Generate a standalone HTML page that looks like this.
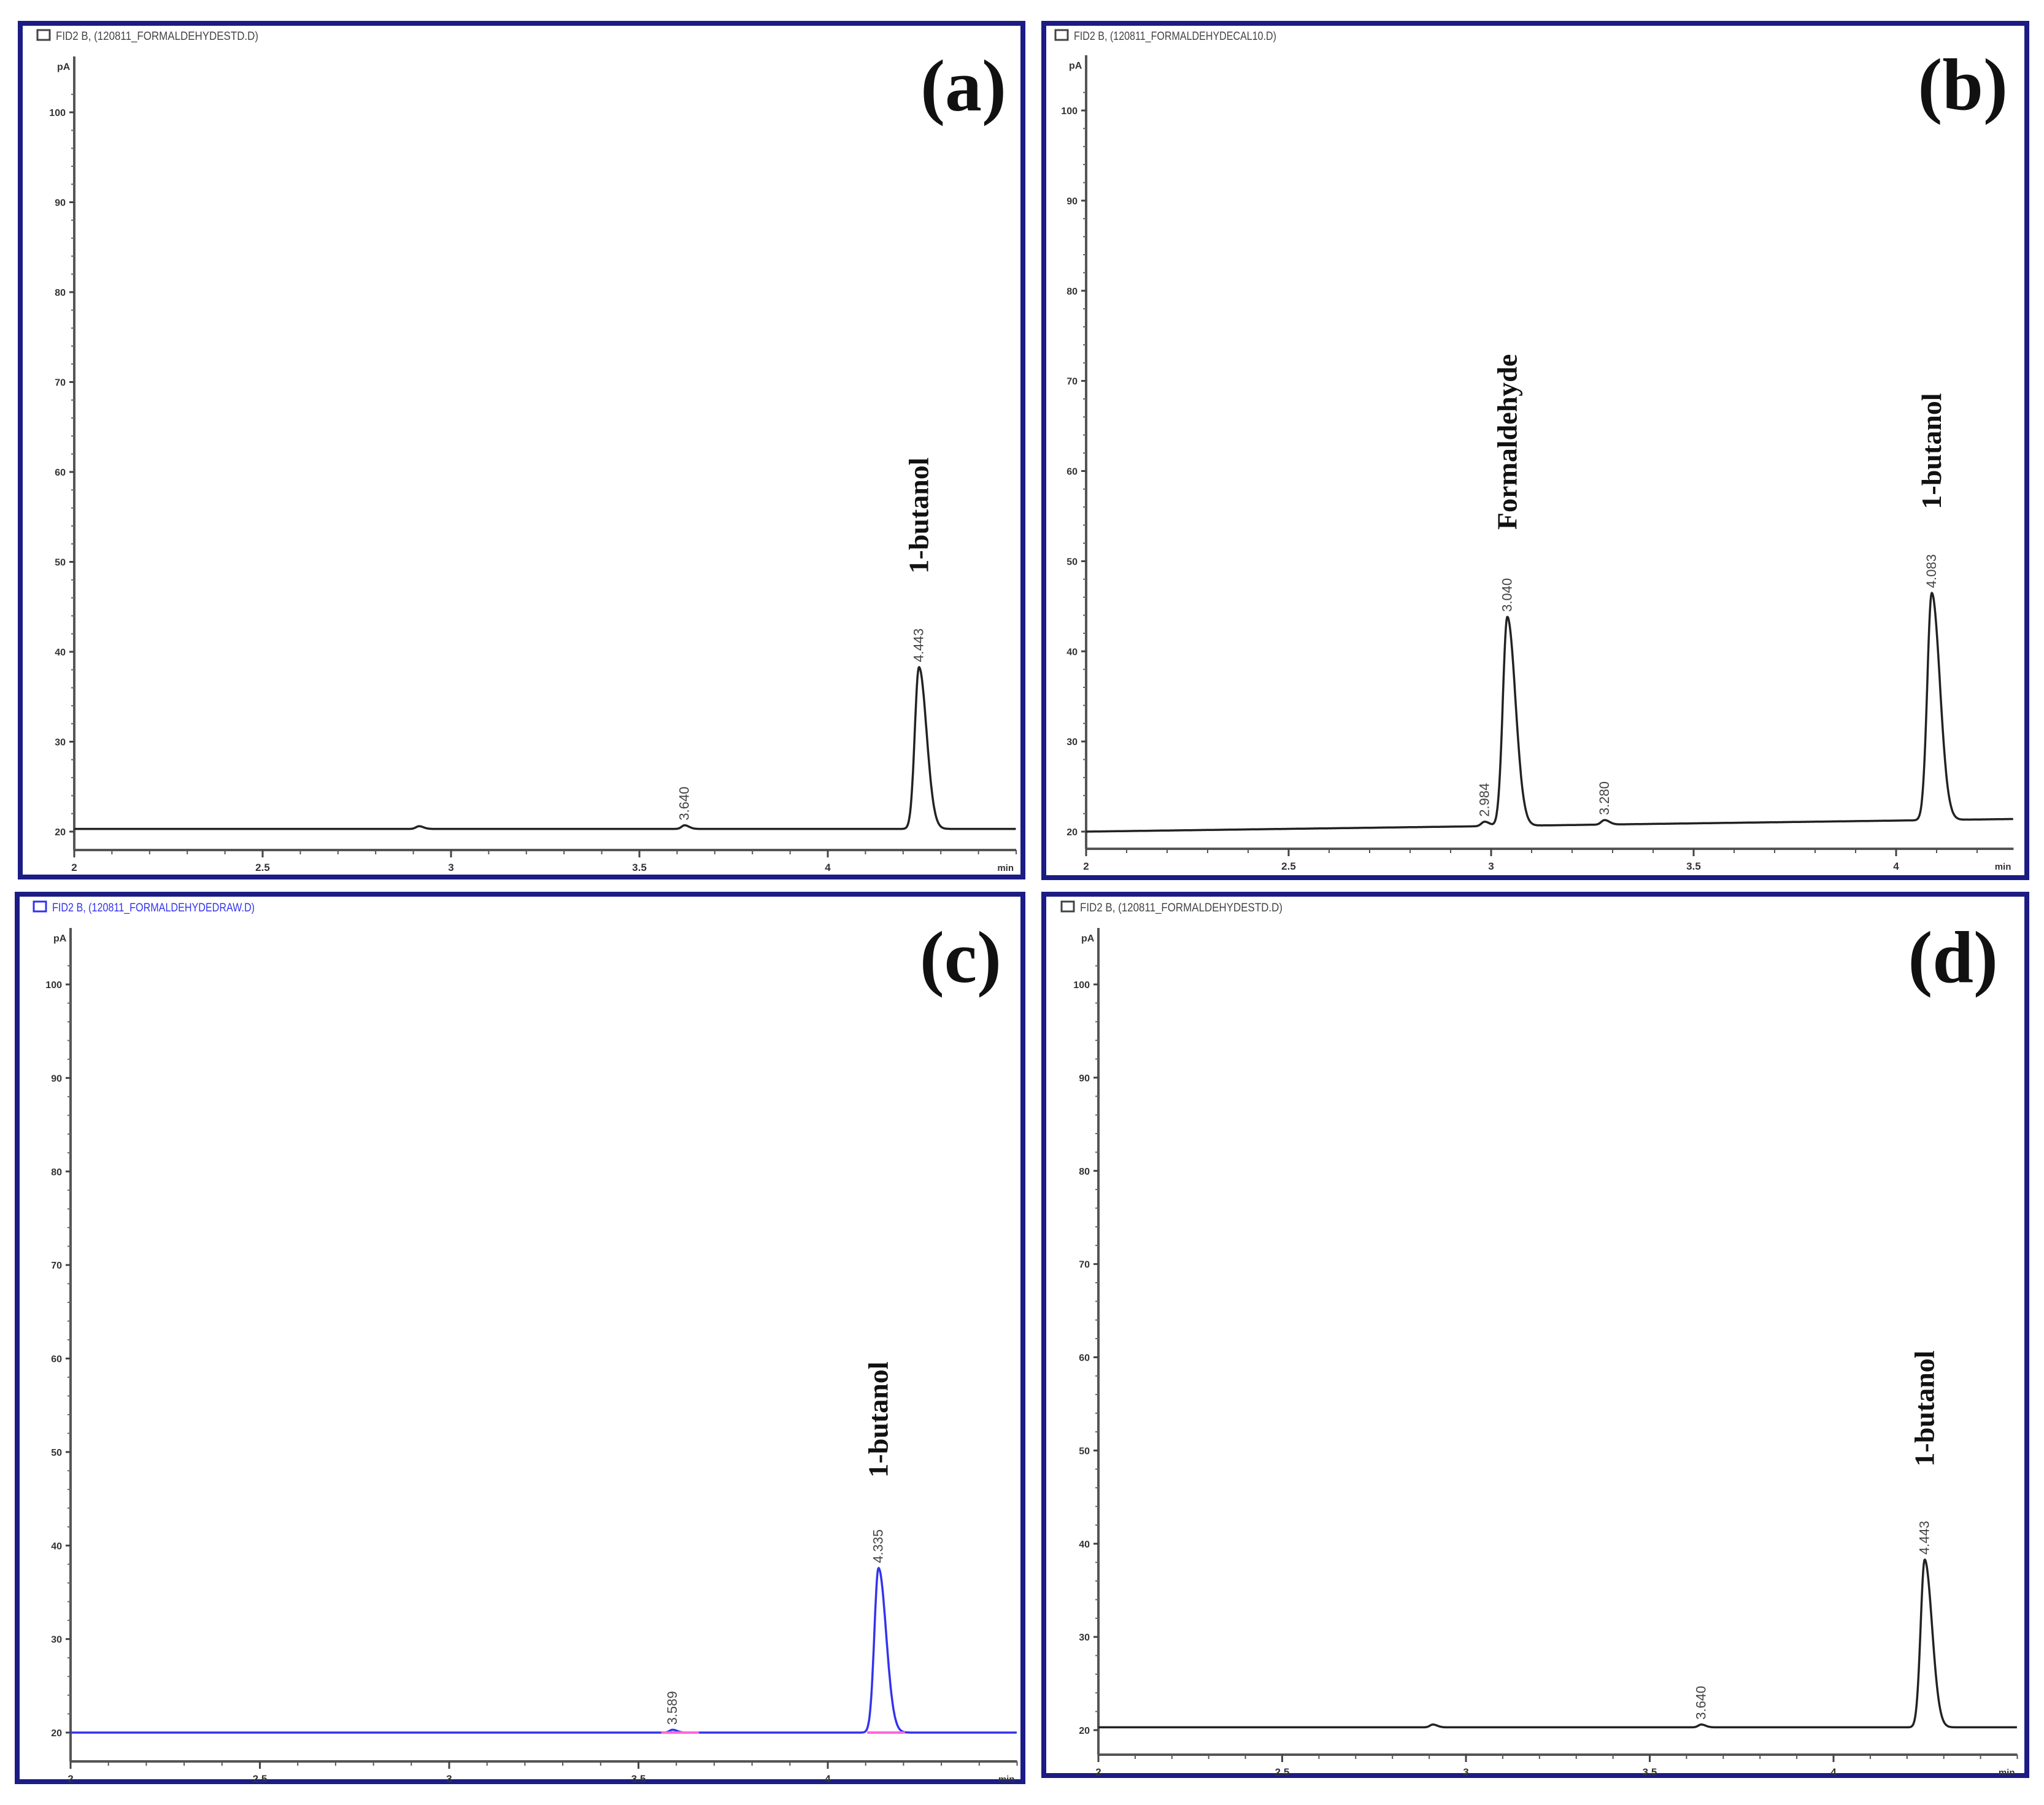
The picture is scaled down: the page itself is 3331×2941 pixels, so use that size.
<!DOCTYPE html>
<html><head><meta charset="utf-8">
<style>
html,body{margin:0;padding:0;background:#fff;}
svg{display:block;}
</style></head>
<body>
<svg id="fig" width="3331" height="2941" viewBox="0 0 3331 2941" xmlns="http://www.w3.org/2000/svg">
<rect width="3331" height="2941" fill="#fff"/>
</svg>
<script>
// ---- data (retention time in min, response in pA) ----
const xTicksA = [2, 2.5, 3, 3.5, 4];
const xTickLabels = ["2", "2.5", "3", "3.5", "4"];
const yTicks = [20, 30, 40, 50, 60, 70, 80, 90, 100];
const titlesPanels = ["FID2 B, (120811_FORMALDEHYDESTD.D)", "FID2 B, (120811_FORMALDEHYDECAL10.D)", "FID2 B, (120811_FORMALDEHYDEDRAW.D)", "FID2 B, (120811_FORMALDEHYDESTD.D)"];
const panelLetters = ["(a)", "(b)", "(c)", "(d)"];
// peaks per panel: apex positions on the drawn time axis, heights above baseline, printed rt labels
const peakRtA = [2.915, 3.62, 4.242];
const peakHA = [0.3, 0.4, 18.0];
const peakLblA = ["", "3.640", "4.443"];
const peakRtB = [2.984, 3.04, 3.28, 4.088];
const peakHB = [0.5, 23.2, 0.5, 25.2];
const peakLblB = ["2.984", "3.040", "3.280", "4.083"];
const peakRtC = [3.59, 4.134];
const peakHC = [0.3, 17.6];
const peakLblC = ["3.589", "4.335"];
const peakRtD = [2.91, 3.64, 4.248];
const peakHD = [0.3, 0.3, 18.0];
const peakLblD = ["", "3.640", "4.443"];
// baseline start/end values
const baseA = [20.3, 20.3];
const baseB = [20.0, 21.4];
const baseC = [20.0, 20.0];
const baseD = [20.3, 20.3];
// compound annotations: [rt, text]
const compA = [[4.242, "1-butanol"]];
const compB = [[3.04, "Formaldehyde"], [4.088, "1-butanol"]];
const compC = [[4.134, "1-butanol"]];
const compD = [[4.248, "1-butanol"]];

// ---- layout ----
const panels = [
 {frame:[33,38,1634,1391], ax0:121, pxPerMin:614, y20:1355, y100:183, xAxisY:1385, xMax:4.5, axTop:92, titleY:58,
  rt:peakRtA, h:peakHA, lbl:peakLblA, base:baseA, comp:compA, color:"#222", letterX:1640, letterY:180, compY:840},
 {frame:[1701,38,1602,1392], ax0:1770, pxPerMin:660, y20:1355, y100:180, xAxisY:1383, xMax:4.29, axTop:90, titleY:58,
  rt:peakRtB, h:peakHB, lbl:peakLblB, base:baseB, comp:compB, color:"#222", letterX:3272, letterY:178, compY:[720,735]},
 {frame:[28,1457,1639,1446], ax0:115, pxPerMin:617, y20:2823, y100:1604, xAxisY:2870, xMax:4.5, axTop:1512, titleY:1478,
  rt:peakRtC, h:peakHC, lbl:peakLblC, base:baseC, comp:compC, color:"#3333ee", letterX:1632, letterY:1600, compY:2313},
 {frame:[1701,1457,1602,1436], ax0:1790, pxPerMin:599, y20:2819, y100:1604, xAxisY:2859, xMax:4.5, axTop:1512, titleY:1478,
  rt:peakRtD, h:peakHD, lbl:peakLblD, base:baseD, comp:compD, color:"#222", letterX:3256, letterY:1600, compY:2295}
];
const NS = "http://www.w3.org/2000/svg";
const svg = document.getElementById('fig');
function mk(tag, attrs, parent){ const e=document.createElementNS(NS,tag); for(const k in attrs) e.setAttribute(k,attrs[k]); (parent||svg).appendChild(e); return e; }

panels.forEach((p, i) => {
  const g = mk('g', {});
  
  
  const X = t => p.ax0 + (t - 2) * p.pxPerMin;
  const Y = v => p.y20 - (v - 20) * (p.y20 - p.y100) / 80;
  const xEnd = X(p.xMax);
  const fr = mk('rect', {x:p.frame[0], y:p.frame[1], width:p.frame[2], height:p.frame[3], fill:'none', stroke:'#1c1c84', 'stroke-width':8}, g);
  
  
  const tc = i === 2 ? '#3333ee' : '#444';
  mk('rect', {x:p.ax0 - 60 + (i===1?10:0), y:p.titleY - 9, width:20, height:16, fill:'none', stroke:tc, 'stroke-width':3}, g);
  const tt = mk('text', {x:p.ax0 - 30 + (i===1?10:0), y:p.titleY + 7, 'font-family':'Liberation Sans, sans-serif', 'font-size':19, fill:tc, textLength:330, lengthAdjust:'spacingAndGlyphs'}, g);
  tt.textContent = titlesPanels[i];
  
  
  const ya = mk('line', {x1:p.ax0, y1:p.axTop, x2:p.ax0, y2:p.xAxisY, stroke:'#555', 'stroke-width':4}, g);
  
  
  const un = mk('text', {x:p.ax0 - 28, y:p.axTop + 22, 'font-family':'Liberation Sans, sans-serif', 'font-size':16, 'font-weight':'bold', fill:'#333'}, g);
  un.textContent = 'pA';
  
  
  yTicks.forEach(v => {
    mk('line', {x1:p.ax0 - 8, y1:Y(v), x2:p.ax0, y2:Y(v), stroke:'#444', 'stroke-width':3}, g);
    const t = mk('text', {x:p.ax0 - 14, y:Y(v) + 6, 'text-anchor':'end', 'font-family':'Liberation Sans, sans-serif', 'font-size':16, 'font-weight':'bold', fill:'#333'}, g);
    t.textContent = String(v);
    
    
    for (let k = 1; k < 5; k++) { const vv = v + k * 2; if (vv < 104) mk('line', {x1:p.ax0 - 5, y1:Y(vv), x2:p.ax0, y2:Y(vv), stroke:'#666', 'stroke-width':2}, g); }
  });
  const xa = mk('line', {x1:p.ax0, y1:p.xAxisY, x2:xEnd, y2:p.xAxisY, stroke:'#555', 'stroke-width':4}, g);
  
  
  for (let t = 2; t <= p.xMax + 1e-6; t += 0.1) mk('line', {x1:X(t), y1:p.xAxisY, x2:X(t), y2:p.xAxisY + 7, stroke:'#555', 'stroke-width':2}, g);
  xTicksA.forEach((t, k) => {
    mk('line', {x1:X(t), y1:p.xAxisY, x2:X(t), y2:p.xAxisY + 12, stroke:'#444', 'stroke-width':3}, g);
    const tl = mk('text', {x:X(t), y:p.xAxisY + 34, 'text-anchor':'middle', 'font-family':'Liberation Sans, sans-serif', 'font-size':17, 'font-weight':'bold', fill:'#333'}, g);
    tl.textContent = xTickLabels[k];
    
    
  });
  const mn = mk('text', {x:xEnd - 4, y:p.xAxisY + 34, 'text-anchor':'end', 'font-family':'Liberation Sans, sans-serif', 'font-size':15, 'font-weight':'bold', fill:'#333'}, g);
  mn.textContent = 'min';
  
  
  const baseAt = t => p.base[0] + (p.base[1] - p.base[0]) * (t - 2) / (p.xMax - 2);
  let d = '';
  for (let t = 2; t <= p.xMax + 1e-9; t += 0.0015) {
    let v = baseAt(t);
    p.rt.forEach((r, k) => {
      const big = p.h[k] > 3;
      const sl = big ? 0.011 : 0.008, sr = big ? 0.02 : 0.012;
      const s = t < r ? sl : sr;
      v += p.h[k] * Math.exp(-0.5 * Math.pow((t - r) / s, 2));
    });
    d += (d ? 'L' : 'M') + X(t).toFixed(1) + ' ' + Y(v).toFixed(1);
  }
  const tr = mk('path', {d:d, fill:'none', stroke:p.color, 'stroke-width':3.5, 'stroke-linejoin':'round'}, g);
  
  
  p.rt.forEach((r, k) => {
    if (i === 2) mk('line', {x1:X(r - 0.03), y1:Y(baseAt(r)), x2:X(r + 0.07), y2:Y(baseAt(r)), stroke:'#ff66dd', 'stroke-width':4}, g);
    if (!p.lbl[k]) return;
    const yTop = Y(baseAt(r) + p.h[k]) - 8;
    const lt = mk('text', {x:0, y:0, transform:`translate(${X(r) + 7},${yTop}) rotate(-90)`, 'font-family':'Liberation Sans, sans-serif', 'font-size':22, fill:'#444'}, g);
    lt.textContent = p.lbl[k];
    
    
  });
  p.comp.forEach((c, k) => {
    const cy = Array.isArray(p.compY) ? p.compY[k] : p.compY;
    const ct = mk('text', {x:0, y:0, 'text-anchor':'middle', transform:`translate(${X(c[0]) + 15},${cy}) rotate(-90)`, 'font-family':'Liberation Serif, serif', 'font-size':46, 'font-weight':'bold', fill:'#111'}, g);
    ct.textContent = c[1];
    
    
  });
  const pl = mk('text', {x:p.letterX, y:p.letterY, 'text-anchor':'end', 'font-family':'Liberation Serif, serif', 'font-size':120, 'font-weight':'bold', fill:'#111'}, g);
  pl.textContent = panelLetters[i];
  
  
});
</script>
</body></html>
